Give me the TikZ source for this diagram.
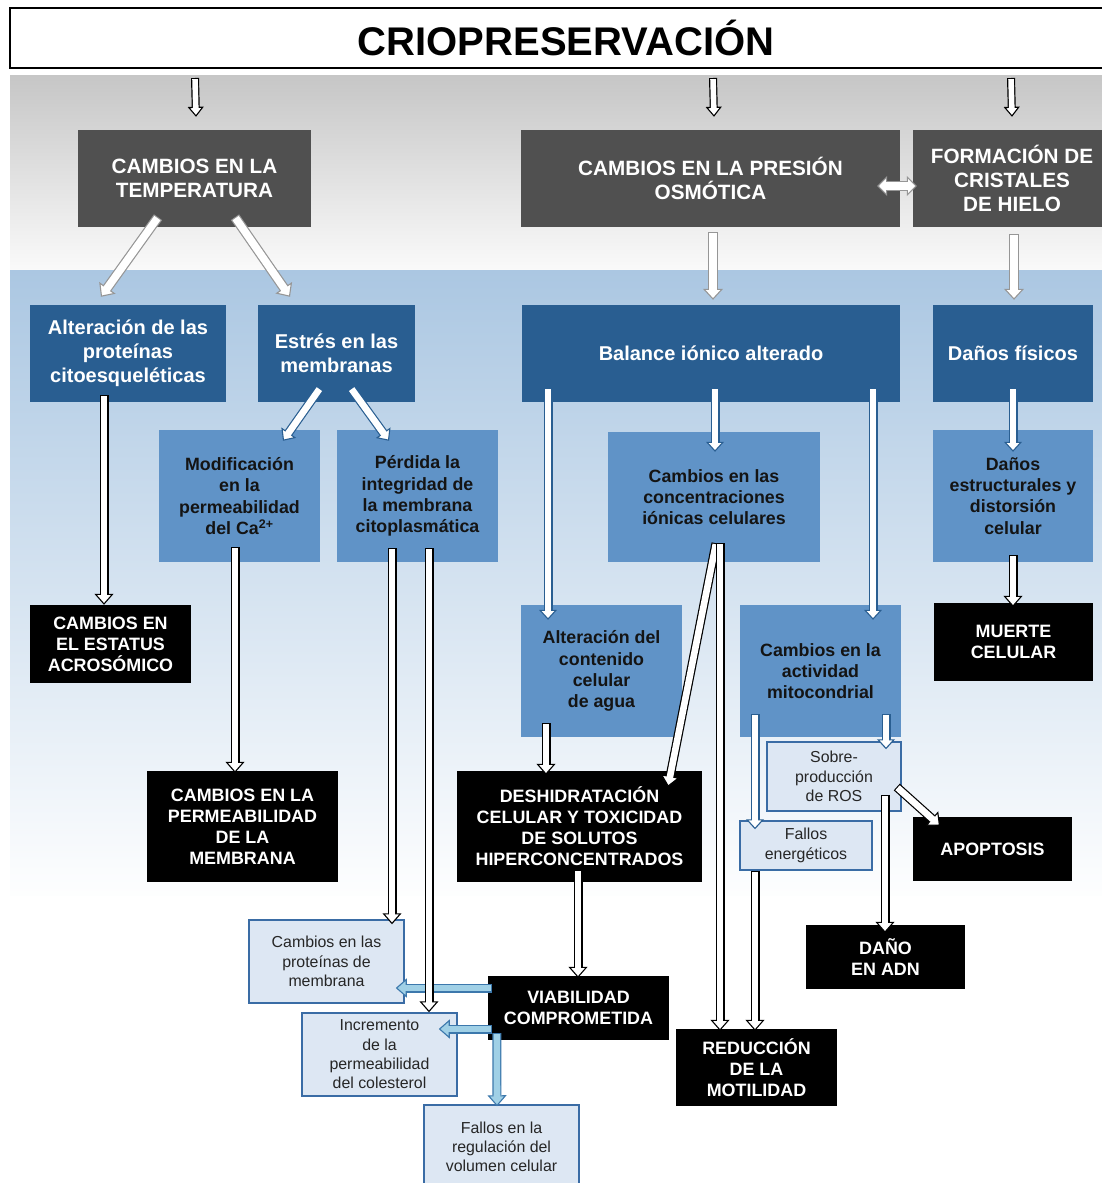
\documentclass[tikz,border=0pt]{standalone}
\usepackage{fontspec}
\setmainfont{Liberation Sans}
\usetikzlibrary{arrows.meta,calc}
\definecolor{dgray}{RGB}{80,80,80}
\definecolor{dblue}{RGB}{41,94,145}
\definecolor{mblue}{RGB}{96,147,199}
\definecolor{pale}{RGB}{221,231,243}
\definecolor{pborder}{RGB}{58,108,165}
\definecolor{bggray}{RGB}{198,198,198}
\definecolor{bgblue}{RGB}{171,199,226}
\definecolor{lbfill}{RGB}{160,208,230}
\definecolor{lbline}{RGB}{60,120,172}
\definecolor{ggline}{RGB}{150,150,150}
\definecolor{mtext}{RGB}{20,20,20}
% #1 outline, #2 fill, #3 outer width, #4 inner width, #5 head width, #6 head length, #7 start, #8 end
\newcommand\harrow[8]{%
  \draw[draw=#1, line width=#3, -{Triangle[width=#5,length=#6,fill=#2,line width=1.1pt]}] #7 -- #8;
  \draw[draw=#2, line width=#4, shorten >=#6-2.5pt, shorten <=1.1pt] #7 -- #8;
}
\newcommand\karr[2]{\harrow{black}{white}{9pt}{6.6pt}{19pt}{11pt}{#1}{#2}}
\newcommand\tarr[2]{\harrow{black}{white}{8pt}{5.6pt}{16pt}{10pt}{#1}{#2}}
\newcommand\garr[2]{\harrow{ggline}{white}{10pt}{7.6pt}{20pt}{11pt}{#1}{#2}}
\newcommand\barr[2]{\harrow{dblue}{white}{9pt}{6.6pt}{18pt}{10pt}{#1}{#2}}
\newcommand\larr[2]{\harrow{lbline}{lbfill}{9pt}{6.6pt}{19pt}{11pt}{#1}{#2}}
\begin{document}
\begin{tikzpicture}[x=1pt,y=-1pt,
  every node/.style={align=center, inner sep=0pt},
  dgbox/.style={fill=dgray, text=white, font=\fontsize{20.7}{24}\selectfont\bfseries},
  dbbox/.style={fill=dblue, text=white, font=\fontsize{20}{24}\selectfont\bfseries},
  mbbox/.style={fill=mblue, text=mtext, font=\fontsize{17.8}{21.3}\selectfont\bfseries},
  kbox/.style={fill=black, text=white, font=\fontsize{17.9}{21}\selectfont\bfseries},
  pbox/.style={fill=pale, draw=pborder, line width=1.5pt, text=black!85, font=\fontsize{15.9}{19.3}\selectfont},
  sz/.style 2 args={minimum width=#1 pt, minimum height=#2 pt}]
\useasboundingbox (0,0) rectangle (1102,1183);
\fill[white] (0,0) rectangle (1102,1183);
% backgrounds
\shade[top color=bggray, bottom color=white!98!black] (10,75) rectangle (1102,270);
\shade[top color=bgblue, bottom color=white!98!bgblue] (10,270) rectangle (1102,895);
% title
\node[draw=black, line width=2pt, fill=white, sz={1106}{60}, font=\fontsize{40}{44}\selectfont\bfseries] (title) at (563,38) {\hspace*{6pt}CRIOPRESERVACIÓN};
% level 1
\node[dgbox, sz={233}{97}] (tempe) at (194.5,178.5) {CAMBIOS EN LA\\TEMPERATURA};
\node[dgbox, sz={379}{97}] (presion) at (710.5,178.5) {CAMBIOS EN LA PRESIÓN\\OSMÓTICA};
\node[dgbox, sz={198}{97}] (hielo) at (1012,178.5) {FORMACIÓN DE\\CRISTALES\\DE HIELO};
% level 2
\node[dbbox, sz={196}{97}] (altprot) at (128,353.5) {Alteración de las\\proteínas\\citoesqueléticas};
\node[dbbox, sz={157}{97}] (estres) at (336.5,353.5) {Estrés en las\\membranas};
\node[dbbox, sz={378}{97}] (balance) at (711,353.5) {Balance iónico alterado};
\node[dbbox, sz={160}{97}] (danfis) at (1013,353.5) {Daños físicos};
% level 3
\node[mbbox, sz={161}{132}] (modif) at (239.5,496) {Modificación\\en la\\permeabilidad\\del Ca\textsuperscript{2+}};
\node[mbbox, sz={161}{132}] (perdida) at (417.5,496) {Pérdida la\\integridad de\\la membrana\\citoplasmática};
\node[mbbox, sz={212}{130}] (concent) at (714,497) {Cambios en las\\concentraciones\\iónicas celulares};
\node[mbbox, sz={160}{132}] (danest) at (1013,496) {Daños\\estructurales y\\distorsión\\celular};
\node[mbbox, sz={161}{132}] (altagua) at (601.5,671) {Alteración del\\contenido\\celular\\de agua};
\node[mbbox, sz={161}{132}] (mito) at (820.5,671) {Cambios en la\\actividad\\mitocondrial};
% black boxes
\node[kbox, sz={161}{78}] (acros) at (110.5,644) {CAMBIOS EN\\EL ESTATUS\\ACROSÓMICO};
\node[kbox, sz={159}{78}] (muerte) at (1013.5,642) {MUERTE\\CELULAR};
\node[kbox, sz={191}{111}] (cperm) at (242.5,826.5) {CAMBIOS EN LA\\PERMEABILIDAD\\DE LA\\MEMBRANA};
\node[kbox, sz={245}{111}] (deshid) at (579.5,826.5) {DESHIDRATACIÓN\\CELULAR Y TOXICIDAD\\DE SOLUTOS\\HIPERCONCENTRADOS};
\node[kbox, sz={159}{64}] (apopt) at (992.5,849) {APOPTOSIS};
\node[kbox, sz={159}{64}] (adn) at (885.5,957) {DAÑO\\EN ADN};
\node[kbox, sz={181}{64}] (viab) at (578.5,1008) {VIABILIDAD\\COMPROMETIDA};
\node[kbox, sz={161}{77}] (motil) at (756.5,1067.5) {REDUCCIÓN\\DE LA\\MOTILIDAD};
% pale boxes
\node[pbox, sz={134}{69}] (ros) at (834,776.5) {Sobre-\\producción\\de ROS};
\node[pbox, sz={132}{49}] (fallen) at (806,845.5) {Fallos\\energéticos};
\node[pbox, sz={155}{83}] (cprot) at (326.5,961.5) {Cambios en las\\proteínas de\\membrana};
\node[pbox, sz={155}{83}] (incre) at (379.5,1054.5) {Incremento\\de la\\permeabilidad\\del colesterol};
\node[pbox, sz={155}{84}] (fallreg) at (501.5,1147) {Fallos en la\\regulación del\\volumen celular};
% top arrows
\tarr{($(title.south west)+(186,9)$)}{($(tempe.north)+(1.5,-13)$)}
\tarr{($(title.south west)+(704,9)$)}{($(presion.north)+(3.5,-13)$)}
\tarr{($(title.south west)+(1002,9)$)}{($(hielo.north)+(0,-13)$)}
% gray arrows
\garr{($(tempe.south)+(-36.5,-10)$)}{($(altprot.north)+(-27,-8)$)}
\garr{($(tempe.south)+(40.5,-10)$)}{($(estres.north)+(-46.5,-8)$)}
\garr{($(presion.south)+(2.5,5)$)}{($(balance.north)+(2,-5)$)}
\garr{($(hielo.south)+(2,7)$)}{($(danfis.north)+(1,-5)$)}
\draw[draw=ggline, line width=10pt, {Triangle[width=20pt,length=10pt,fill=white,line width=1.1pt]}-{Triangle[width=20pt,length=10pt,fill=white,line width=1.1pt]}] ($(presion.east)+(-23,7.5)$) -- ($(hielo.west)+(4,7.5)$);
\draw[draw=white, line width=7.6pt, shorten >=7.5pt, shorten <=7.5pt] ($(presion.east)+(-23,7.5)$) -- ($(hielo.west)+(4,7.5)$);
% blue-outlined arrows
\barr{($(estres.south)+(-16.5,-14)$)}{($(modif.north)+(43.5,11)$)}
\barr{($(estres.south)+(14.5,-14)$)}{($(perdida.north)+(-28.5,11)$)}
\barr{($(balance.south)+(-163,-14)$)}{($(altagua.north)+(-53.5,15)$)}
\barr{($(balance.south)+(4,-14)$)}{($(concent.north)+(1,20)$)}
\barr{($(balance.south)+(162,-14)$)}{($(mito.north)+(52.5,15)$)}
\barr{($(danfis.south)+(0,-14)$)}{($(danest.north)+(0,22)$)}
\barr{($(mito.south)+(-65.5,-23)$)}{($(fallen.north)+(-51,9)$)}
\barr{($(mito.south)+(65.5,-23)$)}{($(ros.north)+(52,8)$)}
% light blue arrows
\larr{($(viab.west)+(4,-20)$)}{($(cprot.east)+(-9,26.5)$)}
\larr{($(viab.west)+(4,21)$)}{($(incre.east)+(-19,-25.5)$)}
\larr{($(viab.west)+(9,25)$)}{($(fallreg.north)+(-4.5,2)$)}
% black arrows
\karr{($(altprot.south)+(-24,-7)$)}{($(acros.north)+(-6.5,0)$)}
\karr{($(modif.south)+(-4.5,-15)$)}{($(cperm.north)+(-7.5,2)$)}
\karr{($(perdida.south)+(-25.5,-14)$)}{($(cprot.north)+(65.5,5)$)}
\karr{($(perdida.south)+(11.5,-14)$)}{($(incre.north)+(49.5,0)$)}
\karr{($(concent.south)+(2,-19)$)}{($(deshid.north)+(88.5,16)$)}
\karr{($(concent.south)+(6,-19)$)}{($(motil.north)+(-36.5,2)$)}
\karr{($(altagua.south)+(-55.5,-14)$)}{($(deshid.north)+(-33.5,4)$)}
\karr{($(deshid.south)+(-1.5,-12)$)}{($(viab.north)+(-0.5,2)$)}
\karr{($(ros.east)+(-5,10.5)$)}{($(apopt.north)+(-52.5,9)$)}
\karr{($(ros.south)+(51,-17)$)}{($(adn.north)+(-0.5,8)$)}
\karr{($(fallen.south)+(-51,0)$)}{($(motil.north)+(-1.5,2)$)}
\karr{($(danest.south)+(0,-7)$)}{($(muerte.north)+(-0.5,4)$)}
\end{tikzpicture}
\end{document}
